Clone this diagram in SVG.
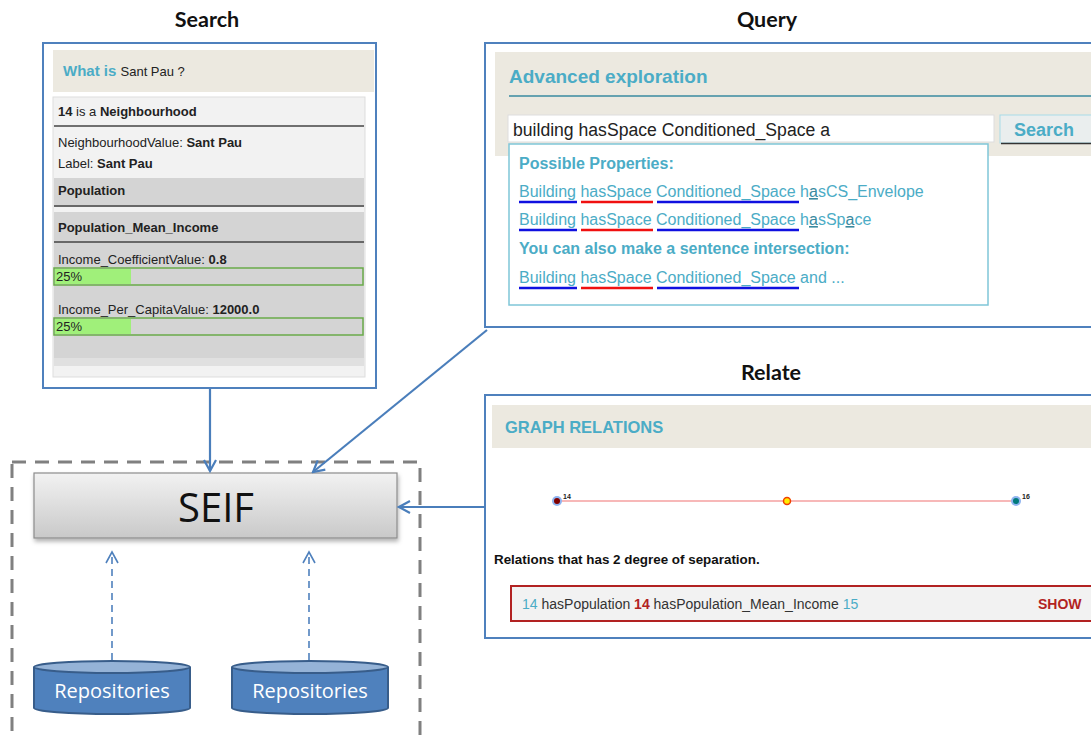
<svg xmlns="http://www.w3.org/2000/svg" width="1091" height="735" viewBox="0 0 1091 735">
<style>
.title{font-family:Lato,"Open Sans",sans-serif;font-weight:bold;font-size:21.5px;fill:#111;text-anchor:middle}
.frame{fill:#fff;stroke:#4f81bd;stroke-width:2}
.ui{font-family:"Liberation Sans",Arial,sans-serif}
.tb{font-family:"Liberation Sans",Arial,sans-serif;font-size:13px;fill:#222}
.teal{fill:#4bacc6}
.lnk{font-family:"Liberation Sans",Arial,sans-serif;font-size:16px;fill:#4bacc6}
.conn{stroke:#4a7ebb;stroke-width:2.2;fill:none}
.dconn{stroke:#4f81bd;stroke-width:1.6;fill:none;stroke-dasharray:7 5}
.repo text{font-family:"Open Sans",Lato,sans-serif;font-size:20px;fill:#fff;text-anchor:middle}
</style>
<defs>
<marker id="ah" viewBox="0 0 14 14" refX="12" refY="7" markerWidth="14" markerHeight="14" markerUnits="userSpaceOnUse" orient="auto">
<path d="M1,1 L12,7 L1,13" fill="none" stroke="#4a7ebb" stroke-width="2.2"/>
</marker>
<marker id="ahd" viewBox="0 0 14 14" refX="12" refY="7" markerWidth="14" markerHeight="14" markerUnits="userSpaceOnUse" orient="auto">
<path d="M1,1 L12,7 L1,13" fill="none" stroke="#4f81bd" stroke-width="1.6"/>
</marker>
<linearGradient id="seifg" x1="0" y1="0" x2="0" y2="1">
<stop offset="0" stop-color="#f2f2f2"/>
<stop offset="1" stop-color="#c9c9c9"/>
</linearGradient>
<filter id="sh" x="-10%" y="-20%" width="120%" height="150%">
<feDropShadow dx="1" dy="3" stdDeviation="2" flood-color="#000" flood-opacity="0.3"/>
</filter>
</defs>
<rect width="1091" height="735" fill="#fff"/>

<text class="title" x="207" y="27">Search</text>
<text class="title" x="767" y="27">Query</text>
<text class="title" x="771" y="380">Relate</text>

<g id="search">
<rect class="frame" x="43" y="43" width="333" height="345"/>
<rect x="53" y="50" width="321" height="42" fill="#ece9e0"/>
<text class="ui" x="63" y="76" font-size="15"><tspan class="teal" font-weight="bold">What is </tspan><tspan fill="#222" font-size="13">Sant Pau ?</tspan></text>
<rect x="53" y="97" width="312" height="280" fill="#f2f2f2" stroke="#ddd"/>
<rect x="54" y="178" width="310" height="29" fill="#d4d4d4"/>
<rect x="54" y="212" width="310" height="146" fill="#d4d4d4"/>
<rect x="54" y="358" width="310" height="8" fill="#e0e0e0"/>
<line x1="54" y1="126" x2="364" y2="126" stroke="#444" stroke-width="1.5"/>
<line x1="54" y1="206" x2="364" y2="206" stroke="#444" stroke-width="1.5"/>
<line x1="54" y1="242" x2="364" y2="242" stroke="#444" stroke-width="1.5"/>
<text class="tb" x="58" y="116"><tspan font-weight="bold">14</tspan> is a <tspan font-weight="bold">Neighbourhood</tspan></text>
<text class="tb" x="58" y="147">NeighbourhoodValue: <tspan font-weight="bold">Sant Pau</tspan></text>
<text class="tb" x="58" y="168">Label: <tspan font-weight="bold">Sant Pau</tspan></text>
<text class="tb" x="58" y="195" font-weight="bold">Population</text>
<text class="tb" x="58" y="232" font-weight="bold">Population_Mean_Income</text>
<text class="tb" x="58" y="264">Income_CoefficientValue: <tspan font-weight="bold">0.8</tspan></text>
<rect x="54" y="268" width="309" height="17" fill="#d4d4d4" stroke="#6aaa4a" stroke-width="1.5"/>
<rect x="55" y="269" width="76" height="15" fill="#a0f07a"/>
<text class="tb" x="56" y="281">25%</text>
<text class="tb" x="58" y="314">Income_Per_CapitaValue: <tspan font-weight="bold">12000.0</tspan></text>
<rect x="54" y="318" width="309" height="17" fill="#d4d4d4" stroke="#6aaa4a" stroke-width="1.5"/>
<rect x="55" y="319" width="76" height="15" fill="#a0f07a"/>
<text class="tb" x="56" y="331">25%</text>
</g>

<g id="query">
<rect class="frame" x="485" y="43" width="610" height="284"/>
<rect x="495" y="52" width="596" height="104" fill="#ece9e0"/>
<text class="ui teal" x="509" y="83" font-size="19" font-weight="bold">Advanced exploration</text>
<line x1="509" y1="96" x2="1091" y2="96" stroke="#3a8aa0" stroke-width="1.5"/>
<rect x="508" y="115" width="486" height="27" fill="#fff" stroke="#ddd"/>
<text class="ui" x="513" y="136" font-size="17.6" fill="#222">building hasSpace Conditioned_Space a</text>
<rect x="1000" y="115" width="95" height="28" fill="#eaeeee" stroke="#a8dce8"/>
<path d="M1001,143.5 H1095" stroke="#333" stroke-width="1.5"/>
<text class="ui teal" x="1014" y="136" font-size="18" font-weight="bold">Search</text>
<rect x="509" y="144" width="479" height="161" fill="#fff" stroke="#7fc6d8" stroke-width="1.5"/>
<text class="lnk" x="519" y="169" font-size="15.5" font-weight="bold">Possible Properties:</text>
<text class="lnk" x="519" y="197">Building hasSpace Conditioned_Space h<tspan text-decoration="underline" fill="#3a8aa0">a</tspan>sCS_Envelope</text>
<text class="lnk" x="519" y="225">Building hasSpace Conditioned_Space h<tspan text-decoration="underline" fill="#3a8aa0">a</tspan>sSp<tspan text-decoration="underline" fill="#3a8aa0">a</tspan>ce</text>
<text class="lnk" x="519" y="254" font-size="15.5" font-weight="bold">You can also make a sentence intersection:</text>
<text class="lnk" x="519" y="283">Building hasSpace Conditioned_Space and ...</text>
<g stroke-width="2.5">
<line x1="519" y1="202" x2="577" y2="202" stroke="#1010e0"/>
<line x1="581" y1="202" x2="653" y2="202" stroke="#f01010"/>
<line x1="657" y1="202" x2="799" y2="202" stroke="#1010e0"/>
<line x1="519" y1="230" x2="577" y2="230" stroke="#1010e0"/>
<line x1="581" y1="230" x2="653" y2="230" stroke="#f01010"/>
<line x1="657" y1="230" x2="799" y2="230" stroke="#1010e0"/>
<line x1="519" y1="288" x2="577" y2="288" stroke="#1010e0"/>
<line x1="581" y1="288" x2="653" y2="288" stroke="#f01010"/>
<line x1="657" y1="288" x2="799" y2="288" stroke="#1010e0"/>
</g>
</g>

<g id="relate">
<rect class="frame" x="485" y="395" width="610" height="243"/>
<rect x="492" y="405" width="599" height="43" fill="#ece9e0"/>
<text class="ui teal" x="505" y="433" font-size="16.5" font-weight="bold">GRAPH RELATIONS</text>
<line x1="557" y1="501" x2="1016" y2="501" stroke="#f4a0a0" stroke-width="1.5"/>
<circle cx="557" cy="501" r="5" fill="#8fb4f0"/>
<circle cx="557" cy="501" r="3" fill="#800000"/>
<circle cx="787" cy="501" r="3.5" fill="#ffee00" stroke="#f04000" stroke-width="1.5"/>
<circle cx="1016" cy="501" r="5" fill="#8fb4f0"/>
<circle cx="1016" cy="501" r="3" fill="#007a7a"/>
<text class="ui" x="563" y="499" font-size="7" font-weight="bold" fill="#222">14</text>
<text class="ui" x="1022" y="499" font-size="7" font-weight="bold" fill="#222">16</text>
<text class="ui" x="494" y="564" font-size="13.4" font-weight="bold" fill="#111">Relations that has 2 degree of separation.</text>
<rect x="511" y="586" width="584" height="35" fill="#f2f2f2" stroke="#b22222" stroke-width="2"/>
<text class="ui" x="522" y="609" font-size="14" fill="#333"><tspan class="teal">14</tspan> hasPopulation <tspan fill="#b22222" font-weight="bold">14</tspan> hasPopulation_Mean_Income <tspan class="teal">15</tspan></text>
<text class="ui" x="1038" y="609" font-size="14" font-weight="bold" fill="#b22222">SHOW</text>
</g>

<g id="container">
<rect x="12" y="462" width="408" height="290" fill="none" stroke="#808080" stroke-width="3" stroke-dasharray="14 9"/>
</g>

<g id="seif">
<rect x="34" y="473" width="363" height="65" fill="url(#seifg)" stroke="#8c8c8c" stroke-width="1.2" filter="url(#sh)"/>
<text x="216" y="522" font-family="'Open Sans',Lato,sans-serif" font-size="40" fill="#111" text-anchor="middle">SEIF</text>
</g>

<g id="repo1" class="repo">
<path d="M34,667 V708 A78,6 0 0 0 190,708 V667" fill="#4f81bd" stroke="#385d8a" stroke-width="2"/>
<ellipse cx="112" cy="667" rx="78" ry="6" fill="#95b3d7" stroke="#385d8a" stroke-width="2"/>
<text x="112" y="698">Repositories</text>
</g>
<g id="repo2" class="repo">
<path d="M232,667 V708 A78,6 0 0 0 388,708 V667" fill="#4f81bd" stroke="#385d8a" stroke-width="2"/>
<ellipse cx="310" cy="667" rx="78" ry="6" fill="#95b3d7" stroke="#385d8a" stroke-width="2"/>
<text x="310" y="698">Repositories</text>
</g>

<g id="connectors">
<line class="conn" x1="210" y1="389" x2="210" y2="471" marker-end="url(#ah)"/>
<line class="conn" x1="487" y1="330" x2="313" y2="472" marker-end="url(#ah)"/>
<line class="conn" x1="485" y1="507" x2="399" y2="507" marker-end="url(#ah)"/>
<line class="dconn" x1="112" y1="660" x2="112" y2="552" marker-end="url(#ahd)"/>
<line class="dconn" x1="309" y1="660" x2="309" y2="552" marker-end="url(#ahd)"/>
</g>
</svg>
